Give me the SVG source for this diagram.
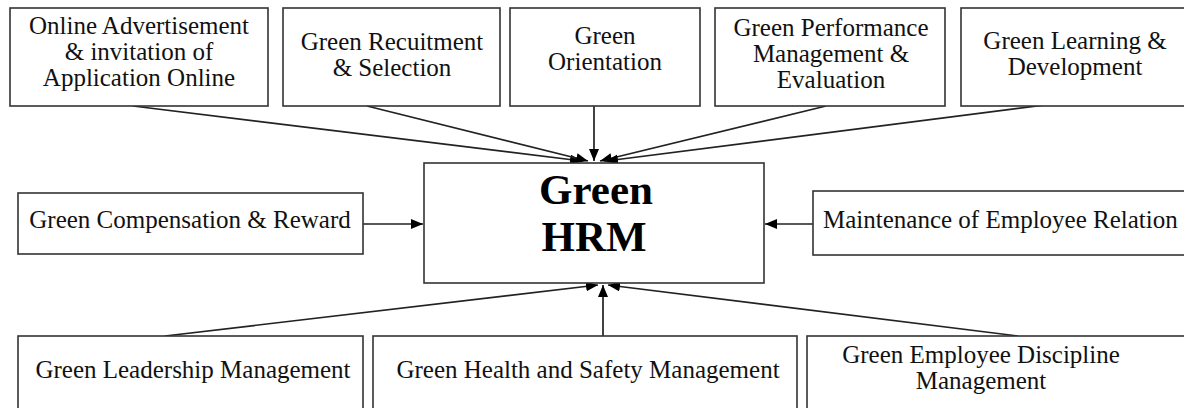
<svg xmlns="http://www.w3.org/2000/svg" width="1184" height="408" viewBox="0 0 1184 408">
<style>
.box{fill:#fff;stroke:#333;stroke-width:1.6}
.t{font-family:"Liberation Serif","Times New Roman",serif;font-size:25px;fill:#111;text-anchor:middle}
.ts{text-anchor:start}
.big{font-family:"Liberation Serif","Times New Roman",serif;font-size:43px;font-weight:bold;fill:#000;text-anchor:middle}
.c{stroke:#222;stroke-width:1.7;fill:none;marker-end:url(#ah)}
</style>
<defs>
<marker id="ah" markerUnits="userSpaceOnUse" markerWidth="13" markerHeight="11" refX="12" refY="5" orient="auto">
<path d="M0,0 L12,5 L0,10 z" fill="#000"/>
</marker>
</defs>
<rect width="1184" height="408" fill="#fff"/>
<g id="connectors">
<line class="c" x1="133" y1="106" x2="582" y2="161"/>
<line class="c" x1="367" y1="106" x2="588" y2="161"/>
<line class="c" x1="594" y1="106" x2="594" y2="161"/>
<line class="c" x1="826" y1="106" x2="600" y2="161"/>
<line class="c" x1="1053" y1="104" x2="606" y2="161"/>
<line class="c" x1="363" y1="224" x2="423" y2="224"/>
<line class="c" x1="813" y1="224" x2="765" y2="224"/>
<line class="c" x1="165" y1="336" x2="598" y2="285"/>
<line class="c" x1="603" y1="336" x2="603" y2="285"/>
<line class="c" x1="1018" y1="336" x2="608" y2="285"/>
</g>
<g id="n-center">
<rect class="box" x="424" y="163" width="340" height="120"/>
<text class="big" x="596" y="204">Green</text>
<text class="big" x="594" y="251">HRM</text>
</g>
<g id="n-online">
<rect class="box" x="10" y="8" width="258" height="98"/>
<text class="t" x="139" y="34">Online Advertisement</text>
<text class="t" x="139" y="60">&amp; invitation of</text>
<text class="t" x="139" y="86">Application Online</text>
</g>
<g id="n-recruit">
<rect class="box" x="283" y="8" width="217" height="98"/>
<text class="t" x="392" y="50">Green Recuitment</text>
<text class="t" x="392" y="76">&amp; Selection</text>
</g>
<g id="n-orient">
<rect class="box" x="510" y="8" width="190" height="98"/>
<text class="t" x="605" y="44">Green</text>
<text class="t" x="605" y="70">Orientation</text>
</g>
<g id="n-perf">
<rect class="box" x="715" y="8" width="230" height="98"/>
<text class="t" x="831" y="36">Green Performance</text>
<text class="t" x="831" y="62">Management &amp;</text>
<text class="t" x="831" y="88">Evaluation</text>
</g>
<g id="n-learn">
<rect class="box" x="961" y="8" width="232" height="98"/>
<text class="t" x="1075" y="49">Green Learning &amp;</text>
<text class="t" x="1075" y="75">Development</text>
</g>
<g id="n-comp">
<rect class="box" x="18" y="193" width="345" height="61"/>
<text class="t" x="190" y="228">Green Compensation &amp; Reward</text>
</g>
<g id="n-maint">
<rect class="box" x="813" y="191" width="380" height="64"/>
<text class="t ts" x="823" y="228">Maintenance of Employee Relation</text>
</g>
<g id="n-lead">
<rect class="box" x="18" y="336" width="345" height="80"/>
<text class="t" x="193" y="378">Green Leadership Management</text>
</g>
<g id="n-health">
<rect class="box" x="373" y="336" width="424" height="80"/>
<text class="t" x="588" y="378">Green Health and Safety Management</text>
</g>
<g id="n-disc">
<rect class="box" x="807" y="336" width="386" height="80"/>
<text class="t" x="981" y="363">Green Employee Discipline</text>
<text class="t" x="981" y="389">Management</text>
</g>
</svg>
